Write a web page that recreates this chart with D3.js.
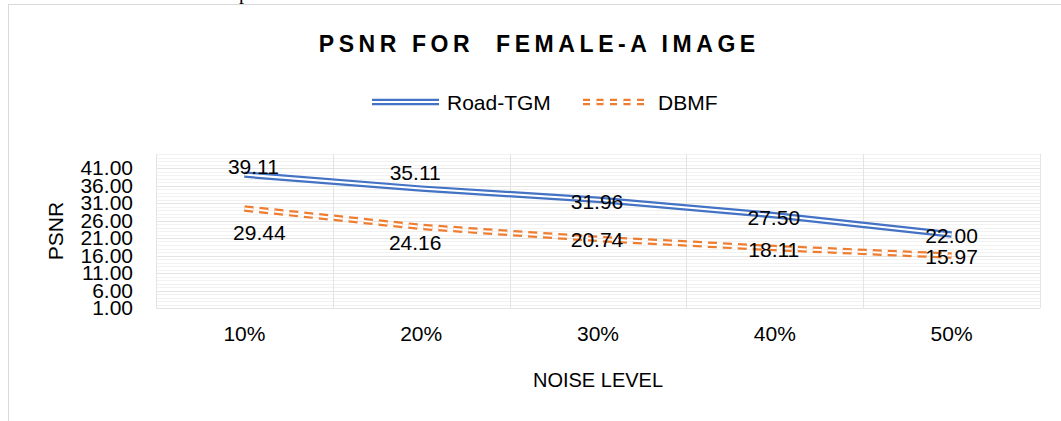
<!DOCTYPE html>
<html>
<head>
<meta charset="utf-8">
<script src="https://cdn.jsdelivr.net/npm/d3@7"></script>
<style>
  body { margin: 0; background: #fff; }
  svg { display: block; font-family: 'Liberation Sans', Arial, sans-serif; }
</style>
</head>
<body>
<div class="chart"></div>
<script>
// data
const categories = ['10%', '20%', '30%', '40%', '50%']
const roadTGM = [39.11, 35.11, 31.96, 27.50, 22.00]
const dbmf = [29.44, 24.16, 20.74, 18.11, 15.97]
const yTicks = [1, 6, 11, 16, 21, 26, 31, 36, 41]
const seriesNames = ['Road-TGM', 'DBMF']

// label nudges (px), as they sit in the original
const labelNudge = {
  'Road-TGM': [[9, -8], [-6, -16], [-1, 2], [-1, 2], [0, 1]],
  'DBMF': [[15, 24], [-6, 16], [-1, 1], [-1, 1], [0, 1]]
}

const W = 1061, H = 421
const plot = { left: 156, right: 1040, top: 154, bottom: 308 }

const svg = d3.select('.chart').append('svg')
  .attr('width', W).attr('height', H)

// stray glyph from the page above the chart
svg.append('text').attr('x', 239).attr('y', -1)
  .style('font-family', "'Liberation Serif', serif").style('font-size', '20px')
  .text('p')

// chart frame
svg.append('rect').attr('x', 8.5).attr('y', 4.5)
  .attr('width', 1080).attr('height', 440)
  .attr('fill', 'none').attr('stroke', '#d9d9d9')

const xScale = d3.scaleBand().domain(categories).range([plot.left, plot.right])
const xc = c => xScale(c) + xScale.bandwidth() / 2
const yScale = d3.scaleLinear().domain([1, 45]).range([plot.bottom, plot.top])

// gridlines
const grid = svg.append('g')
grid.selectAll('.minor').data(d3.range(1, 46))
  .enter().append('line')
  .attr('x1', plot.left).attr('x2', plot.right)
  .attr('y1', d => Math.round(yScale(d)) + 0.5).attr('y2', d => Math.round(yScale(d)) + 0.5)
  .attr('stroke', '#f2f2f2')
grid.selectAll('.major').data(yTicks)
  .enter().append('line')
  .attr('x1', plot.left).attr('x2', plot.right)
  .attr('y1', d => Math.round(yScale(d)) + 0.5).attr('y2', d => Math.round(yScale(d)) + 0.5)
  .attr('stroke', '#e4e4e4')
grid.selectAll('.vert').data(categories.concat(['end']))
  .enter().append('line')
  .attr('x1', (d, i) => Math.round(plot.left + i * xScale.bandwidth()) + 0.5)
  .attr('x2', (d, i) => Math.round(plot.left + i * xScale.bandwidth()) + 0.5)
  .attr('y1', plot.top).attr('y2', plot.bottom)
  .attr('stroke', '#e4e4e4')

// y axis
const yAxis = d3.axisLeft(yScale).tickValues(yTicks).tickFormat(d3.format('.2f'))
  .tickSize(0).tickPadding(0)
const yAxisDraw = svg.append('g').attr('transform', 'translate(133,0)').call(yAxis)
yAxisDraw.select('.domain').remove()
yAxisDraw.selectAll('text')
  .style('font-size', '21px').style('fill', '#000')
  .style('font-family', "'Liberation Sans', Arial, sans-serif")

// x axis
const xAxis = d3.axisBottom(xScale).tickSize(0).tickPadding(0)
const xAxisDraw = svg.append('g').attr('transform', 'translate(0,326)').call(xAxis)
xAxisDraw.select('.domain').remove()
xAxisDraw.selectAll('text')
  .style('font-size', '21px').style('fill', '#000')
  .style('font-family', "'Liberation Sans', Arial, sans-serif")

// axis titles
svg.append('text').attr('transform', 'translate(63,231) rotate(-90)')
  .attr('text-anchor', 'middle').style('font-size', '21px').text('PSNR')
svg.append('text').attr('x', 598).attr('y', 387)
  .attr('text-anchor', 'middle').style('font-size', '20px').text('NOISE LEVEL')

// title
const title = svg.append('text').attr('x', 537).attr('y', 52)
  .attr('text-anchor', 'middle')
  .style('font-size', '23px').style('font-weight', 'bold')
  .text('PSNR FOR\u00a0\u00a0FEMALE-A IMAGE')
const natural = title.node().getComputedTextLength()
const nChars = title.text().length
title.style('letter-spacing', ((441 - natural) / nChars) + 'px')
  .attr('x', 537 + (441 - natural) / nChars / 2)

// series
const series = [
  { name: seriesNames[0], values: roadTGM, color: '#4472c4', dash: null },
  { name: seriesNames[1], values: dbmf, color: '#ed7d31', dash: '9 6' }
]

const lineGen = d3.line().x((d, i) => xc(categories[i])).y(d => yScale(d))

function doubleLine(g, d, path) {
  g.append('path').attr('d', path).attr('fill', 'none')
    .attr('stroke', d.color).attr('stroke-width', 6.5)
    .attr('stroke-dasharray', d.dash)
  g.append('path').attr('d', path).attr('fill', 'none')
    .attr('stroke', '#fff').attr('stroke-width', 2)
    .attr('stroke-dasharray', d.dash)
}

series.forEach(d => {
  const g = svg.append('g').attr('class', 'line-series')
  doubleLine(g, d, lineGen(d.values))
})

// data labels
series.forEach(d => {
  svg.append('g').selectAll('text').data(d.values)
    .enter().append('text')
    .attr('x', (v, i) => xc(categories[i]) + labelNudge[d.name][i][0])
    .attr('y', (v, i) => yScale(v) + labelNudge[d.name][i][1])
    .attr('text-anchor', 'middle').attr('dominant-baseline', 'central')
    .style('font-size', '21px')
    .text(v => d3.format('.2f')(v))
})

// legend
const legendItems = [
  { x: 372, len: 67, tx: 447 },
  { x: 583, len: 67, tx: 658 }
]
series.forEach((d, i) => {
  const it = legendItems[i]
  const g = svg.append('g')
  const dLeg = Object.assign({}, d, { dash: d.dash ? '7 6.5' : null })
  doubleLine(g, dLeg, `M${it.x},102H${it.x + it.len}`)
  g.append('text').attr('x', it.tx).attr('y', 102)
    .attr('dominant-baseline', 'central').style('font-size', '21px')
    .text(d.name)
})
</script>
</body>
</html>
